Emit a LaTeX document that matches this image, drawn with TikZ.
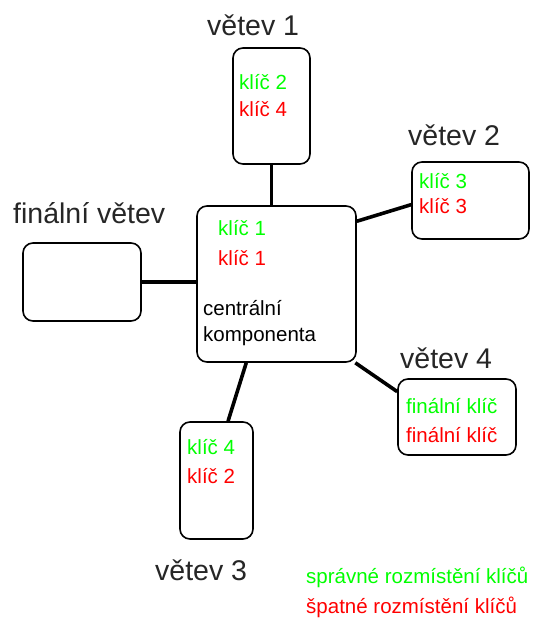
\documentclass[tikz,border=0pt]{standalone}
\usepackage{fontspec}
\setmainfont{Liberation Sans}
\usetikzlibrary{calc}
\definecolor{keygood}{RGB}{0,255,0}
\definecolor{keybad}{RGB}{255,0,0}
\tikzset{
  part/.style={draw=black, line width=1.6pt, rounded corners=10pt, inner sep=0pt},
  link/.style={draw=black, line width=3.6pt},
  title/.style={anchor=base west, inner sep=0pt, font=\fontsize{28.5}{30}\selectfont, text=black!85},
  txt/.style={anchor=base west, inner sep=0pt, font=\fontsize{20.5}{22}\selectfont},
  good/.style={txt, text=keygood},
  bad/.style={txt, text=keybad},
  plain/.style={txt, text=black},
}
\begin{document}
\begin{tikzpicture}[x=1pt, y=-1pt]
\useasboundingbox[fill=white] (0,0) rectangle (539,618);

% components
\node[part, minimum width=77pt,  minimum height=116pt] (b1) at (271.5,106) {};
\node[part, minimum width=159pt, minimum height=156pt] (c)  at (276.5,284) {};
\node[part, minimum width=117pt, minimum height=77pt]  (b2) at (470.5,200.5) {};
\node[part, minimum width=118pt, minimum height=78pt]  (bf) at (82,282) {};
\node[part, minimum width=118pt, minimum height=76pt]  (b4) at (457,417) {};
\node[part, minimum width=73pt,  minimum height=117pt] (b3) at (216.5,480.5) {};

% connections to the central component
\draw[link] (b1.south) -- (b1.south |- c.north);
\draw[link] (c.38) -- (b2.184);
\draw[link] (bf.east) -- (bf.east -| c.west);
\draw[link] (c.-45) -- (b4.157);
\draw[link] (c.-111) -- (b3.79);

% titles
\node[title] (t1) at (207,36) {větev 1};
\node[title] (t2) at (408,145) {větev 2};
\node[title] (tf) at (13,223) {finální větev};
\node[title] (t4) at (400,368) {větev 4};
\node[title] (t3) at (155,580) {větev 3};

% keys
\node[good] (k1g) at (239,89)  {klíč 2};
\node[bad]  (k1r) at (239,116) {klíč 4};
\node[good] (kcg) at (218,235) {klíč 1};
\node[bad]  (kcr) at (218,265) {klíč 1};
\node[plain] (kc1) at (203,315) {centrální};
\node[plain] (kc2) at (203,341) {komponenta};
\node[good] (k2g) at (419,188) {klíč 3};
\node[bad]  (k2r) at (419,213) {klíč 3};
\node[good] (k4g) at (406,413) {finální klíč};
\node[bad]  (k4r) at (406,442) {finální klíč};
\node[good] (k3g) at (187,454) {klíč 4};
\node[bad]  (k3r) at (187,483) {klíč 2};

% legend
\node[good] (lg) at (306,583) {správné rozmístění klíčů};
\node[bad]  (lr) at (306,613) {špatné rozmístění klíčů};
\end{tikzpicture}
\end{document}
